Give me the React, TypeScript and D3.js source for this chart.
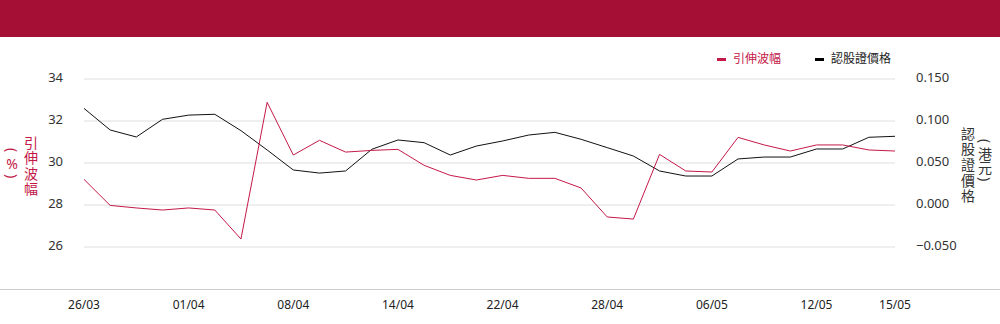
import React from "react";
import * as d3 from "d3";

// trading days shown on the x axis
const dates = [
  "26/03", "27/03", "28/03", "31/03", "01/04", "02/04", "03/04", "07/04",
  "08/04", "09/04", "10/04", "11/04", "14/04", "15/04", "16/04", "17/04",
  "22/04", "23/04", "24/04", "25/04", "28/04", "29/04", "30/04", "02/05",
  "06/05", "07/05", "08/05", "09/05", "12/05", "13/05", "14/05", "15/05",
];

const tickLabels = ["26/03", "01/04", "08/04", "14/04", "22/04", "28/04", "06/05", "12/05", "15/05"];

// implied volatility (%)
const volatility = [
  29.22, 27.98, 27.86, 27.76, 27.86, 27.76, 26.38, 32.89,
  30.38, 31.08, 30.52, 30.6, 30.65, 29.89, 29.41, 29.19,
  29.41, 29.27, 29.27, 28.81, 27.43, 27.33, 30.41, 29.62,
  29.57, 31.22, 30.86, 30.57, 30.86, 30.86, 30.62, 30.57,
];

// warrant price (HKD)
const price = [
  0.115, 0.0893, 0.081, 0.102, 0.107, 0.108, 0.0885, 0.0655,
  0.0417, 0.038, 0.0405, 0.0663, 0.0774, 0.0742, 0.0595, 0.0702,
  0.0762, 0.0833, 0.0865, 0.0782, 0.0683, 0.0583, 0.0405, 0.0345,
  0.0345, 0.0548, 0.0571, 0.0571, 0.0667, 0.0667, 0.0806, 0.0818,
];

const leftTicks = [26, 28, 30, 32, 34];
const rightTicks = [-0.05, 0, 0.05, 0.1, 0.15];

const RED = "#C41848";
const HEADER = "#A50F35";
const FONT = "'Noto Sans', 'Noto Sans CJK TC', sans-serif";

// one character of a vertical title; brackets are turned on their side
function VChar({ c, x, y, fill }: { c: string; x: number; y: number; fill: string }) {
  const rotate = c === "(" || c === ")";
  return (
    <text
      transform={`translate(${x},${y})${rotate ? " rotate(90)" : ""}`}
      fontSize={14}
      fill={fill}
      textAnchor="middle"
      dominantBaseline="central"
    >
      {c}
    </text>
  );
}

export default function App() {
  const width = 1000;
  const height = 324;
  const margin = { left: 84, right: 105, top: 79, bottom: 35 };
  const plotBottom = height - margin.bottom;

  const x = d3
    .scalePoint<string>()
    .domain(dates)
    .range([margin.left, width - margin.right]);

  const yLeft = d3.scaleLinear().domain([24, 34]).range([plotBottom, margin.top]);
  const yRight = d3.scaleLinear().domain([-0.1, 0.15]).range([plotBottom, margin.top]);

  const volLine = d3
    .line<number>()
    .x((_, i) => x(dates[i]) as number)
    .y((d) => yLeft(d));

  const priceLine = d3
    .line<number>()
    .x((_, i) => x(dates[i]) as number)
    .y((d) => yRight(d));

  const fmtRight = d3.format(".3f");

  const leftTitle = ["引", "伸", "波", "幅"];
  const leftUnit = ["(", "%", ")"];
  const leftUnitY = [150, 163, 176];
  const rightTitle = ["認", "股", "證", "價", "格"];
  const rightUnit = ["(", "港", "元", ")"];
  const rightUnitY = [141, 153.5, 167, 179];

  return (
    <div style={{ position: "absolute", top: 0, left: 0 }}>
      <svg width={width} height={height} style={{ display: "block", fontFamily: FONT }}>
        <rect x={0} y={0} width={width} height={37} fill={HEADER} />

        {/* legend */}
        <rect x={717} y={58} width={9} height={3} fill={RED} />
        <text x={733} y={59.5} fontSize={12} fill={RED} dominantBaseline="middle">
          引伸波幅
        </text>
        <rect x={815} y={58} width={9} height={3} fill="#000" />
        <text x={831} y={59.5} fontSize={12} fill="#222" dominantBaseline="middle">
          認股證價格
        </text>

        {/* grid */}
        {leftTicks.map((t) => (
          <line
            key={t}
            x1={margin.left}
            x2={width - margin.right}
            y1={yLeft(t)}
            y2={yLeft(t)}
            stroke="#dedede"
            strokeWidth={1}
          />
        ))}
        <line x1={0} x2={width} y1={plotBottom + 0.5} y2={plotBottom + 0.5} stroke="#cccccc" />

        {/* left axis */}
        {leftTicks.map((t) => (
          <text
            key={t}
            x={63}
            y={yLeft(t)}
            fontSize={13}
            fill="#333"
            textAnchor="end"
            dominantBaseline="middle"
          >
            {t}
          </text>
        ))}
        {leftTitle.map((c, i) => (
          <VChar key={c} c={c} x={31} y={142 + i * 15.6} fill={RED} />
        ))}
        {leftUnit.map((c, i) => (
          <VChar key={c} c={c} x={12} y={leftUnitY[i]} fill={RED} />
        ))}

        {/* right axis */}
        {rightTicks.map((t) => (
          <text key={t} x={916} y={yRight(t)} fontSize={13} fill="#333" dominantBaseline="middle">
            {fmtRight(t)}
          </text>
        ))}
        {rightTitle.map((c, i) => (
          <VChar key={c} c={c} x={968} y={133 + i * 15.7} fill="#333" />
        ))}
        {rightUnit.map((c, i) => (
          <VChar key={c} c={c} x={985} y={rightUnitY[i]} fill="#333" />
        ))}

        {/* x axis labels */}
        {tickLabels.map((d) => (
          <text key={d} x={x(d)} y={309} fontSize={12} fill="#222" textAnchor="middle">
            {d}
          </text>
        ))}

        {/* series */}
        <path d={priceLine(price) ?? ""} fill="none" stroke="#111" strokeWidth={1} />
        <path d={volLine(volatility) ?? ""} fill="none" stroke={RED} strokeWidth={1} />
      </svg>
    </div>
  );
}
